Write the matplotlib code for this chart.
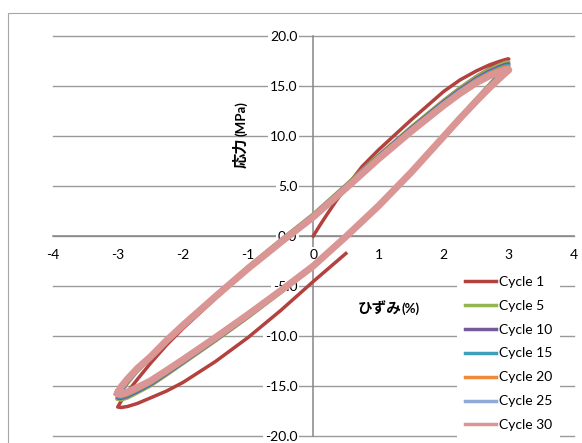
import matplotlib
matplotlib.use("Agg")
import matplotlib.pyplot as plt
from matplotlib.patches import Rectangle

plt.rcParams["axes.unicode_minus"] = False

# strain grid (%) shared by the steady cycles
strain = [-3.0, -2.95, -2.85, -2.7, -2.5, -2.25, -2.0, -1.5, -1.0, -0.5, 0.0,
          0.5, 1.0, 1.5, 2.0, 2.25, 2.5, 2.7, 2.85, 2.95, 3.0]

# stress (MPa) on the upper and lower branch of each loop
up5 = [-16.30, -15.65, -14.75, -13.55, -12.25, -10.50, -8.93, -5.95, -3.05, -0.38, 2.20,
       5.12, 8.10, 10.90, 13.55, 14.80, 15.92, 16.65, 17.10, 17.36, 17.40]
lo5 = [-16.30, -16.40, -16.20, -15.70, -15.00, -13.90, -12.77, -10.50, -8.15, -5.67, -3.10,
       -0.07, 3.00, 6.40, 10.05, 11.90, 13.73, 15.15, 16.22, 17.00, 17.40]
up10 = [-16.15, -15.51, -14.64, -13.48, -12.21, -10.49, -8.93, -5.97, -3.10, -0.44, 2.13,
        5.03, 8.00, 10.79, 13.43, 14.66, 15.77, 16.49, 16.92, 17.17, 17.20]
lo10 = [-16.15, -16.25, -16.05, -15.56, -14.88, -13.79, -12.67, -10.41, -8.08, -5.62, -3.08,
        -0.07, 3.00, 6.39, 10.03, 11.86, 13.67, 15.06, 16.10, 16.83, 17.20]
up15 = [-16.03, -15.40, -14.55, -13.42, -12.18, -10.48, -8.93, -5.99, -3.14, -0.49, 2.07,
        4.96, 7.92, 10.70, 13.33, 14.55, 15.65, 16.36, 16.78, 17.01, 17.04]
lo15 = [-16.03, -16.13, -15.93, -15.45, -14.78, -13.70, -12.59, -10.34, -8.02, -5.58, -3.06,
        -0.07, 3.00, 6.38, 10.01, 11.83, 13.62, 14.99, 16.00, 16.69, 17.04]
up20 = [-15.94, -15.32, -14.48, -13.37, -12.16, -10.47, -8.93, -6.01, -3.17, -0.53, 2.02,
        4.91, 7.86, 10.63, 13.25, 14.47, 15.56, 16.26, 16.67, 16.89, 16.92]
lo20 = [-15.94, -16.04, -15.84, -15.37, -14.70, -13.63, -12.53, -10.29, -7.97, -5.55, -3.04,
        -0.07, 3.00, 6.37, 9.99, 11.81, 13.58, 14.94, 15.92, 16.59, 16.92]
up25 = [-15.82, -15.21, -14.39, -13.31, -12.13, -10.46, -8.93, -6.03, -3.21, -0.58, 1.96,
        4.84, 7.78, 10.54, 13.15, 14.36, 15.44, 16.13, 16.52, 16.74, 16.76]
lo25 = [-15.82, -15.92, -15.72, -15.26, -14.60, -13.54, -12.45, -10.22, -7.91, -5.51, -3.02,
        -0.07, 3.00, 6.36, 9.97, 11.78, 13.53, 14.87, 15.82, 16.46, 16.76]
up30 = [-15.70, -15.10, -14.30, -13.25, -12.10, -10.45, -8.93, -6.05, -3.25, -0.63, 1.90,
        4.77, 7.70, 10.45, 13.05, 14.25, 15.32, 16.00, 16.38, 16.58, 16.60]
lo30 = [-15.70, -15.80, -15.60, -15.15, -14.50, -13.45, -12.37, -10.15, -7.85, -5.47, -3.00,
        -0.07, 3.00, 6.35, 9.95, 11.75, 13.48, 14.80, 15.72, 16.32, 16.60]

# first cycle: initial loading to +3 %, unloading to -3 %, reloading
c1_strain = [0.0, 0.1, 0.2, 0.35, 0.5, 0.75, 1.0, 1.25, 1.5, 2.0, 2.25, 2.5, 2.7, 2.85, 2.95, 3.0,
             2.95, 2.85, 2.7, 2.5, 2.25, 2.0, 1.5, 1.0, 0.5, 0.0, -0.5, -1.0, -1.5, -2.0,
             -2.25, -2.5, -2.7, -2.85, -2.95, -3.0,
             -2.95, -2.85, -2.7, -2.5, -2.25, -2.0, -1.5, -1.0, -0.5, 0.0, 0.5]
c1_stress = [0.0, 1.05, 2.05, 3.5, 4.85, 6.95, 8.6, 10.1, 11.6, 14.45, 15.6, 16.5, 17.1, 17.45,
             17.65, 17.7,
             17.55, 17.2, 16.7, 15.95, 14.8, 13.55, 10.85, 8.0, 5.0, 2.05, -0.6, -3.3, -6.25, -9.25,
             -10.9, -12.75, -14.35, -15.6, -16.55, -17.1,
             -17.15, -17.05, -16.75, -16.2, -15.5, -14.65, -12.55, -10.15, -7.45, -4.55, -1.75]

labels = ["Cycle 1", "Cycle 5", "Cycle 10", "Cycle 15", "Cycle 20", "Cycle 25", "Cycle 30"]
colors = ["#B3413E", "#93B653", "#75599B", "#3E9FBB", "#F08A38", "#8FAAD9", "#D99694"]
loops = [(up5, lo5), (up10, lo10), (up15, lo15), (up20, lo20), (up25, lo25), (up30, lo30)]

W, H = 582, 443


def fx(px):
    return px / W


def fy(py):
    return 1 - py / H


fig = plt.figure(figsize=(W / 100, H / 100), dpi=100)
ax = fig.add_axes([fx(52.5), fy(436), (574 - 52.5) / W, (436 - 36) / H])
ax.set_xlim(-4, 4)
ax.set_ylim(-20, 20)

# outer chart frame (cut off at right and bottom)
fig.add_artist(Rectangle((fx(8.3), -0.2), 2, fy(12.7) + 0.2, transform=fig.transFigure,
                         fill=False, ec="#a6a6a6", lw=0.8))

yt = [-20, -15, -10, -5, 0, 5, 10, 15, 20]
for v in yt:
    ax.axhline(v, color="#9a9a9a", lw=1.0, zorder=1, clip_on=False)

# data
ax.plot(c1_strain, c1_stress, color=colors[0], lw=2.5, label=labels[0], zorder=2,
        solid_joinstyle="round")
for (up, lo), c, lab in zip(loops, colors[1:], labels[1:]):
    xs = strain + strain[::-1][1:]
    ys = lo + up[::-1][1:]
    lw = 5 if lab == "Cycle 30" else 2.5
    ax.plot(xs, ys, color=c, lw=lw, label=lab, zorder=2, solid_joinstyle="round")

# axes crossing at the origin
for side in ["top", "right"]:
    ax.spines[side].set_visible(False)
ax.spines["left"].set_position(("data", 0))
ax.spines["bottom"].set_position(("data", 0))
for side in ["left", "bottom"]:
    ax.spines[side].set_color("#868686")
    ax.spines[side].set_linewidth(1.1)
    ax.spines[side].set_zorder(1.5)

ax.set_xticks([-4, -3, -2, -1, 0, 1, 2, 3, 4])
ax.set_xticklabels(["-4", "-3", "-2", "-1", "0", "1", "2", "3", "4"])
ax.set_yticks(yt)
ax.set_yticklabels(["%.1f" % v for v in yt])
ax.tick_params(axis="x", length=0, pad=9.5, labelsize=10)
ax.tick_params(axis="y", length=0, pad=11.5, labelsize=10)
for t in ax.xaxis.get_major_ticks() + ax.yaxis.get_major_ticks():
    t.label1.set_family("Lato")
    t.label1.set_bbox(dict(fc="white", ec="none", pad=1.5))

# axis titles
fig.text(fx(240), fy(168), "応力", rotation=90, ha="center", va="bottom",
         fontsize=11, fontweight="bold", family="Noto Sans CJK JP")
fig.text(fx(241), fy(136), "(MPa)", rotation=90, ha="center", va="bottom",
         fontsize=9.5, fontweight="bold", family="Lato")
fig.text(fx(358), fy(309), "ひずみ", ha="left", va="center",
         fontsize=10.5, fontweight="bold", family="Noto Sans CJK JP")
fig.text(fx(401), fy(309), "(%)", ha="left", va="center",
         fontsize=9.5, fontweight="bold", family="Lato")

leg = ax.legend(loc="upper left", bbox_to_anchor=(fx(457), fy(268)),
                bbox_transform=fig.transFigure, borderaxespad=0, borderpad=0.55,
                frameon=True, fancybox=False, edgecolor="none", facecolor="white",
                framealpha=1, handlelength=2.25, handletextpad=0.25, labelspacing=0.86,
                prop={"family": "Lato", "size": 10})
for h in leg.get_lines():
    h.set_linewidth(2.5)

fig.savefig("out.png", dpi=100)
